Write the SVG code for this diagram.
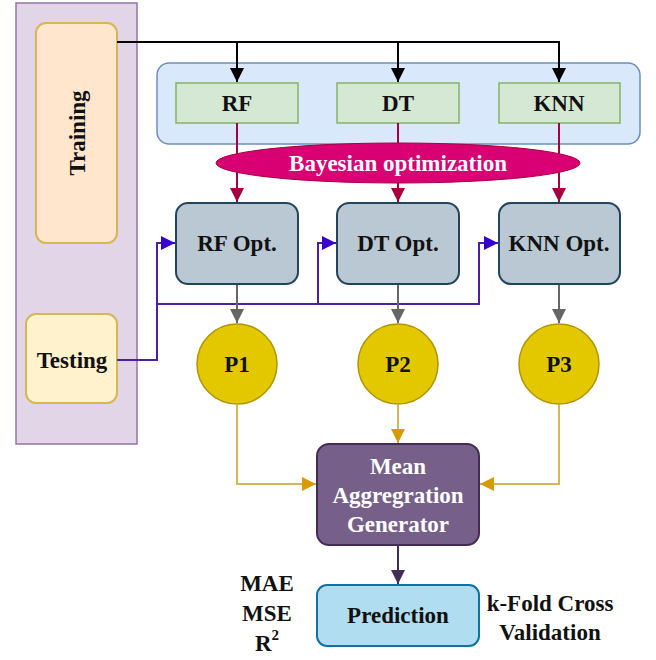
<svg xmlns="http://www.w3.org/2000/svg" width="656" height="660" viewBox="0 0 656 660">
<defs>
<style>
text{font-family:"Liberation Serif","Times New Roman",serif;font-weight:bold;text-anchor:middle;dominant-baseline:central}
.t{font-size:23px;fill:#111}
.w{fill:#fff;font-size:23px}
.green{fill:#d5e8d4;stroke:#82b366;stroke-width:1.5}
.opt{fill:#bac8d3;stroke:#23445d;stroke-width:2}
.circ{fill:#e3c800;stroke:#b09500;stroke-width:1.5}
.c{fill:none;stroke-width:2}
</style>
<marker id="mk" viewBox="0 0 10 10" refX="10" refY="5" markerWidth="14" markerHeight="14" markerUnits="userSpaceOnUse" orient="auto"><path d="M0,0L10,5L0,10z" fill="#000"/></marker>
<marker id="mr" viewBox="0 0 10 10" refX="10" refY="5" markerWidth="14" markerHeight="14" markerUnits="userSpaceOnUse" orient="auto"><path d="M0,0L10,5L0,10z" fill="#a50040"/></marker>
<marker id="mb" viewBox="0 0 10 10" refX="10" refY="5" markerWidth="14" markerHeight="14" markerUnits="userSpaceOnUse" orient="auto"><path d="M0,0L10,5L0,10z" fill="#3700cc"/></marker>
<marker id="mg" viewBox="0 0 10 10" refX="10" refY="5" markerWidth="14" markerHeight="14" markerUnits="userSpaceOnUse" orient="auto"><path d="M0,0L10,5L0,10z" fill="#666"/></marker>
<marker id="my" viewBox="0 0 10 10" refX="10" refY="5" markerWidth="14" markerHeight="14" markerUnits="userSpaceOnUse" orient="auto"><path d="M0,0L10,5L0,10z" fill="#d79b00"/></marker>
<marker id="mp" viewBox="0 0 10 10" refX="10" refY="5" markerWidth="14" markerHeight="14" markerUnits="userSpaceOnUse" orient="auto"><path d="M0,0L10,5L0,10z" fill="#432d57"/></marker>
</defs>
<rect width="656" height="660" fill="#fff"/>
<g id="data-panel"><rect x="16" y="3" width="121" height="441" fill="#e1d5e7" stroke="#9673a6" stroke-width="1.5"/></g>
<g id="training"><rect x="36" y="23" width="81" height="220" rx="10" fill="#ffe6cc" stroke="#d6b656" stroke-width="2"/>
<text class="t" transform="translate(77,133) rotate(-90)" font-size="24">Training</text></g>
<g id="testing"><rect x="26" y="314" width="91" height="89" rx="10" fill="#fff2cc" stroke="#d6b656" stroke-width="2"/>
<text class="t" x="72" y="360">Testing</text></g>
<g id="models-panel"><rect x="157" y="63" width="483" height="81" rx="12" fill="#dae8fc" stroke="#6c8ebf" stroke-width="1.5"/></g>
<g id="rf"><rect class="green" x="176" y="83" width="122" height="40"/><text class="t" x="237" y="103">RF</text></g>
<g id="dt"><rect class="green" x="337" y="83" width="122" height="40"/><text class="t" x="398" y="103">DT</text></g>
<g id="knn"><rect class="green" x="499" y="83" width="121" height="40"/><text class="t" x="559" y="103">KNN</text></g>
<g id="connectors">
<path class="c" stroke="#000" d="M117,42H559V82" marker-end="url(#mk)"/>
<path class="c" stroke="#000" d="M237,42V82" marker-end="url(#mk)"/>
<path class="c" stroke="#000" d="M398,42V82" marker-end="url(#mk)"/>
<path class="c" stroke="#a50040" d="M237,123V202" marker-end="url(#mr)"/>
<path class="c" stroke="#a50040" d="M398,123V202" marker-end="url(#mr)"/>
<path class="c" stroke="#a50040" d="M559,123V202" marker-end="url(#mr)"/>
<path class="c" stroke="#4c1fa8" d="M117,360H157V243H175" marker-end="url(#mb)"/>
<path class="c" stroke="#4c1fa8" d="M157,304H479V243H498" marker-end="url(#mb)"/>
<path class="c" stroke="#4c1fa8" d="M318,304V243H336" marker-end="url(#mb)"/>
<path class="c" stroke="#666" d="M237,284V323" marker-end="url(#mg)"/>
<path class="c" stroke="#666" d="M398,284V323" marker-end="url(#mg)"/>
<path class="c" stroke="#666" d="M559,284V323" marker-end="url(#mg)"/>
<path class="c" stroke="#d6b656" d="M237,405V484H316" marker-end="url(#my)"/>
<path class="c" stroke="#d6b656" d="M398,405V443" marker-end="url(#my)"/>
<path class="c" stroke="#d6b656" d="M559,405V484H480" marker-end="url(#my)"/>
<path class="c" stroke="#432d57" d="M398,545V584" marker-end="url(#mp)"/>
</g>
<g id="bayesian"><ellipse cx="398" cy="163" rx="182" ry="20" fill="#d80073" stroke="#a50040" stroke-width="1"/>
<text class="w" x="398" y="163" font-size="24">Bayesian optimization</text></g>
<g id="rf-opt"><rect class="opt" x="176" y="203" width="122" height="81" rx="12"/><text class="t" x="237" y="243">RF Opt.</text></g>
<g id="dt-opt"><rect class="opt" x="337" y="203" width="122" height="81" rx="12"/><text class="t" x="398" y="243">DT Opt.</text></g>
<g id="knn-opt"><rect class="opt" x="499" y="203" width="121" height="81" rx="12"/><text class="t" x="559" y="243">KNN Opt.</text></g>
<g id="p1"><circle class="circ" cx="237" cy="364" r="40"/><text class="t" x="237" y="364">P1</text></g>
<g id="p2"><circle class="circ" cx="398" cy="364" r="40"/><text class="t" x="398" y="364">P2</text></g>
<g id="p3"><circle class="circ" cx="559" cy="364" r="40"/><text class="t" x="559" y="364">P3</text></g>
<g id="mean"><rect x="317" y="444" width="162" height="101" rx="12" fill="#76608a" stroke="#432d57" stroke-width="2"/>
<text class="w" x="398" y="466">Mean</text><text class="w" x="398" y="495">Aggregration</text><text class="w" x="398" y="524">Generator</text></g>
<g id="prediction"><rect x="317" y="585" width="162" height="61" rx="10" fill="#b1ddf0" stroke="#10739e" stroke-width="2"/>
<text class="t" x="398" y="615" font-size="24">Prediction</text></g>
<g id="metrics"><text class="t" x="267" y="583">MAE</text><text class="t" x="267" y="613">MSE</text><text class="t" x="267" y="643">R<tspan font-size="15" dy="-8">2</tspan></text></g>
<g id="validation"><text class="t" x="550" y="603" font-size="24">k-Fold Cross</text><text class="t" x="550" y="632" font-size="24">Validation</text></g>
</svg>
